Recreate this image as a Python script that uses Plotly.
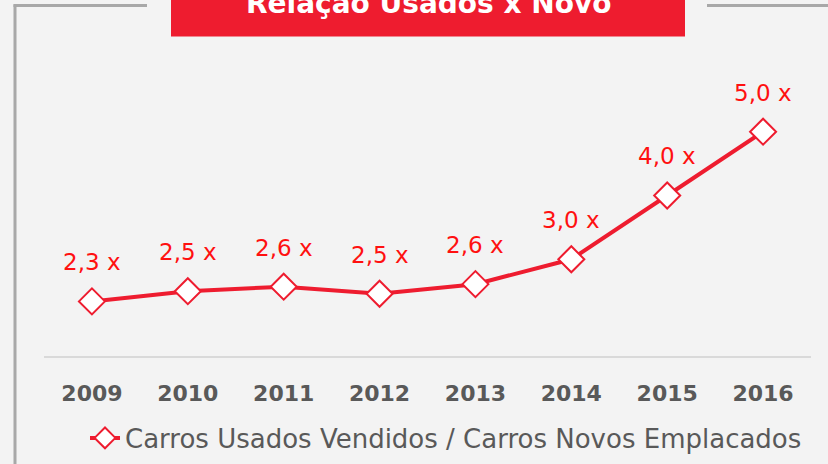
import plotly.graph_objects as go

years = ["2009", "2010", "2011", "2012", "2013", "2014", "2015", "2016"]
ratio = [2.34, 2.50, 2.57, 2.46, 2.61, 3.0, 4.0, 5.0]
labels = ["2,3 x", "2,5 x", "2,6 x", "2,5 x", "2,6 x", "3,0 x", "4,0 x", "5,0 x"]
series_name = "Carros Usados Vendidos / Carros Novos Emplacados"
title_text = "Relação Usados x Novo"

W, H = 828, 464
ML, MR, MT, MB = 44, 17, 40, 108
PW, PH = W - ML - MR, H - MT - MB

def px_x(p):
    return (p - ML) / PW

def px_y(p):
    return (H - MB - p) / PH

FONT = "DejaVu Sans"
RED = "#ee1c2f"
GRAY = "#a8a8a8"
BG = "#f3f3f3"

fig = go.Figure()
fig.add_trace(go.Scatter(
    x=years, y=ratio, mode="lines+markers", name=series_name,
    line=dict(color=RED, width=4),
    marker=dict(symbol="diamond", size=20, color="white", line=dict(color=RED, width=2)),
))

for i, (v, lb) in enumerate(zip(ratio, labels)):
    fig.add_annotation(x=i, y=v, xref="x", yref="y", text=lb, showarrow=False, yshift=39,
                       yanchor="middle", xanchor="center",
                       font=dict(family=FONT, size=23, color="#ff1010"))

# title box
fig.add_shape(type="rect", xref="paper", yref="paper",
              x0=px_x(171), x1=px_x(685), y0=px_y(36.5), y1=px_y(-20),
              fillcolor=RED, line=dict(width=0), layer="below")
fig.add_annotation(xref="paper", yref="paper", x=px_x(428), y=px_y(3),
                   text="<b>" + title_text + "</b>", showarrow=False,
                   xanchor="center", yanchor="middle",
                   font=dict(family=FONT, size=28, color="white"))
# frame lines
fig.add_shape(type="line", xref="paper", yref="paper",
              x0=px_x(15), x1=px_x(15), y0=px_y(4.5), y1=px_y(470),
              line=dict(color=GRAY, width=3))
fig.add_shape(type="line", xref="paper", yref="paper",
              x0=px_x(13.5), x1=px_x(147), y0=px_y(5.5), y1=px_y(5.5),
              line=dict(color=GRAY, width=3))
fig.add_shape(type="line", xref="paper", yref="paper",
              x0=px_x(707), x1=px_x(835), y0=px_y(5.5), y1=px_y(5.5),
              line=dict(color=GRAY, width=3))

fig.update_layout(
    width=W, height=H,
    margin=dict(l=ML, r=MR, t=MT, b=MB, autoexpand=False),
    paper_bgcolor=BG, plot_bgcolor=BG,
    showlegend=True,
    legend=dict(orientation="h", x=px_x(85), y=px_y(438), xanchor="left", yanchor="middle",
                font=dict(family=FONT, size=26, color="#595959"),
                bgcolor="rgba(0,0,0,0)"),
    xaxis=dict(type="category", range=[-0.5, 7.5], showgrid=False, zeroline=False,
               showline=True, linecolor="#d9d9d9", linewidth=2,
               ticks="outside", ticklen=17, tickcolor="rgba(0,0,0,0)",
               tickfont=dict(family=FONT, size=22, color="#595959", weight="bold")),
    yaxis=dict(range=[1.484, 6.437], visible=False, showgrid=False, zeroline=False),
)

fig.write_html("out.html", config={"displayModeBar": False},
               post_script="document.body.style.margin='0';document.body.style.background='" + BG + "';")
